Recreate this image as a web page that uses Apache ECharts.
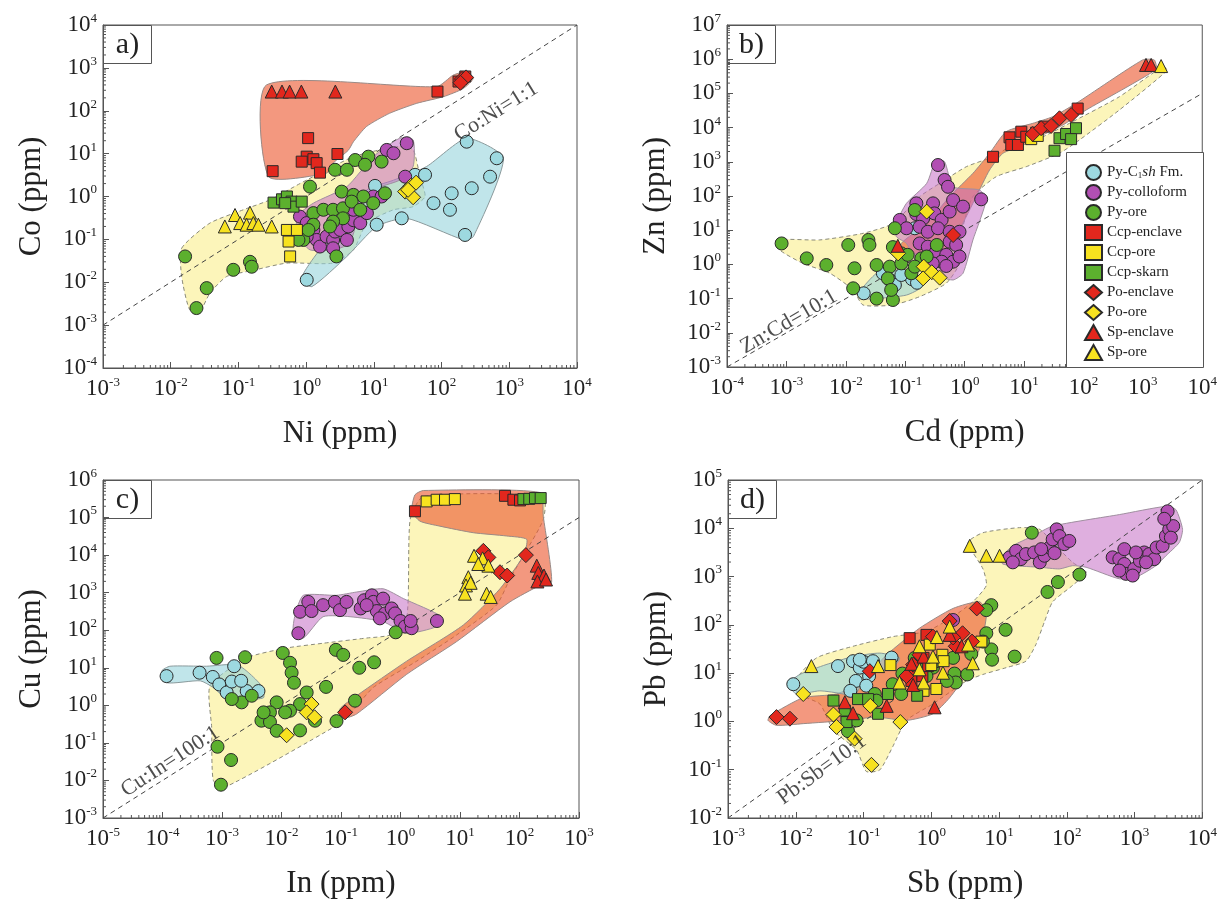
<!DOCTYPE html>
<html>
<head>
<meta charset="utf-8">
<script src="https://cdn.jsdelivr.net/npm/echarts@6/dist/echarts.min.js"></script>
<style>
  html, body { margin: 0; padding: 0; background: #fff; }
  #chart { width: 1220px; height: 900px; }
</style>
</head>
<body>
<div id="chart"></div>
<script>
// ---- panel a) Co vs Ni ----
const aPyC1sh = [[1.02,0.0114],[10.4,1.77],[11,0.22],[25.8,0.31],[40.6,3.2],[57,3.2],[76,0.7],[141,1.19],[133,0.49],[222,0.127],[235,19],[279,1.56],[520,2.9],[653,7.8]]
const aPyColloform = [[0.81,0.34],[1.02,0.24],[1.28,0.166],[1.43,0.097],[1.6,0.068],[2.0,0.116],[2.5,0.097],[2.67,0.152],[3.2,0.166],[4.0,0.097],[4.2,0.2],[5.0,0.28],[6.3,0.24],[5.0,0.49],[7.9,0.41],[9.8,1.0],[13,1.0],[15.5,12.2],[19.5,10.2],[30.6,17.5],[29,2.9],[1.02,0.116],[2.5,0.062]]
const aPyOre = [[0.0163,0.04],[0.034,0.0073],[0.024,0.0025],[0.084,0.0195],[0.148,0.03],[0.157,0.023],[1.14,1.7],[2.67,4.2],[4.0,4.2],[5.3,7.1],[8.3,8.5],[7.4,5.5],[13,6.5],[3.35,1.3],[5.0,1.09],[7.0,1.0],[9.8,0.7],[14.6,1.19],[1.28,0.41],[1.8,0.49],[2.5,0.49],[3.5,0.53],[4.7,0.76],[3.5,0.31],[2.5,0.26],[2.25,0.2],[6.3,0.49],[1.28,0.22],[0.91,0.097],[1.08,0.166],[2.8,0.04],[0.77,0.097]]
const aCcpEnclave = [[0.32,3.9],[1.07,23],[2.9,9.8],[1.02,8.5],[0.86,6.5],[1.28,7.4],[1.43,6.0],[1.6,3.6],[87,280],[178,480],[224,630]]
const aCcpOre = [[0.52,0.166],[0.73,0.166],[0.55,0.089],[0.58,0.04]]
const aCcpSkarn = [[0.33,0.72],[0.44,0.86],[0.52,1.0],[0.61,0.76],[0.65,0.58],[0.86,0.76],[0.49,0.7]]
const aPoEnclave = [[200,550],[230,600],[190,450]]
const aPoOre = [[28.9,1.3],[35,1.77],[42,2.1],[38,0.96],[32,1.43]]
const aSpEnclave = [[0.31,280],[0.44,280],[0.57,280],[0.85,280],[2.7,280]]
const aSpOre = [[0.063,0.2],[0.089,0.37],[0.106,0.24],[0.148,0.42],[0.132,0.22],[0.166,0.24],[0.197,0.22],[0.31,0.2]]

const aPolyOre = [[0.0145,0.062],[0.038,0.24],[0.118,0.49],[0.29,0.83],[0.81,2.0],[2.0,4.2],[5.0,8.5],[12.4,12.3],[24,14.6],[38,12.3],[48,2.9],[57,1.0],[38,0.58],[19.5,0.49],[7.9,0.24],[5.0,0.057],[2.5,0.028],[0.52,0.028],[0.166,0.019],[0.067,0.0136],[0.038,0.0056],[0.027,0.0021],[0.019,0.0023],[0.0145,0.0136]]
const aPolyEnclave = [[0.26,400],[85,365],[149,680],[234,810],[295,575],[209,330],[107,213],[43,149],[17,87],[7.8,43],[5,19],[4.2,12],[2.5,6],[2.0,3.5],[0.28,2.9]]
const aPolyC1sh = [[0.86,0.0124],[1.21,0.0079],[4.0,0.04],[11,0.2],[30.5,0.31],[210,0.098],[295,0.116],[818,7.8],[235,22.8],[60,5.0],[19.5,2.4],[7.9,1.43],[5.0,0.49],[2.25,0.116],[1.14,0.028]]
const aPolyColloform = [[0.73,0.34],[1.28,0.7],[4.0,1.7],[9.8,8.5],[24,22.8],[38,20.9],[38,5.0],[24,2.4],[9.8,1.43],[6.3,0.49],[4.4,0.081],[2.5,0.057],[1.14,0.057],[0.77,0.116]]

// ---- panel b) Zn vs Cd ----
const bPyC1sh = [[0.145,11.4],[0.02,0.143],[0.042,0.55],[0.055,0.35],[0.067,0.25],[0.13,0.37],[0.158,0.29],[0.086,0.49]]
const bPyColloform = [[0.356,805],[0.46,295],[0.525,186],[0.154,61],[0.294,61],[0.154,29.6],[0.2,22],[0.31,31],[0.41,20],[0.56,35],[0.64,76],[0.94,49],[1.9,80],[0.081,20],[0.105,11.4],[0.175,12.6],[0.24,9],[0.356,11.4],[0.56,9],[0.56,4.6],[0.72,3.7],[0.82,9],[0.175,4.1],[0.24,3.3],[0.33,2.35],[0.49,1.9],[0.41,1.2],[0.64,1.2],[0.82,1.7],[0.49,0.9],[0.29,1.07]]
const bPyOre = [[8.3e-4,4.1],[0.0022,1.5],[0.0047,0.96],[0.011,3.7],[0.014,0.77],[0.0133,0.2],[0.024,5.2],[0.025,3.7],[0.033,0.96],[0.033,0.1],[0.062,0.091],[0.067,11.4],[0.062,3.2],[0.055,0.86],[0.086,2.1],[0.086,1.07],[0.051,0.39],[0.058,0.18],[0.11,1.9],[0.145,39],[0.187,1.5],[0.23,1.7],[0.127,0.55],[0.34,3.7],[0.145,0.86]]
const bCcpEnclave = [[3.0,1400],[5.7,5200],[6.1,3100],[7.9,3100],[9.0,7600],[10.9,5400],[16,7100],[22,10700],[80,36000]]
const bCcpOre = [[13.2,4600],[17,5700]]
const bCcpSkarn = [[32.6,2100],[39.5,4900],[51,6500],[75,9600],[62,4600]]
const bPoEnclave = [[14,6500],[19.4,9600],[28.6,11200],[39.5,18700],[62,23300],[0.64,7.2]]
const bPoOre = [[0.23,35],[0.076,2.1],[0.205,0.86],[0.28,0.59],[0.2,0.39],[0.38,0.41]]
const bSpEnclave = [[1130,680000],[1380,680000],[0.075,3.5]]
const bSpOre = [[2030,630000]]

const bPolyOre = [[6.8e-4,5.2],[0.00366,5.2],[0.0195,8.1],[0.0625,15.8],[0.175,96],[0.38,234],[1.07,720],[3.0,1400],[6.5,3100],[18,4850],[58,13300],[403,80000],[2150,600000],[2600,483000],[403,32700],[86,4370],[39.5,1780],[10.9,720],[3.4,367],[1.38,96],[0.94,12.7],[0.82,1.07],[0.49,0.28],[0.175,0.114],[0.0625,0.065],[0.0195,0.065],[0.0133,0.178],[0.0054,0.55],[0.0019,1.07],[7.8e-4,2.6]]
const bPolyEnclave = [[0.086,4.1],[0.23,15.8],[0.56,96],[1.38,460],[2.63,1770],[5.0,7600],[14,13300],[30.5,20900],[75,51000],[990,950000],[1560,950000],[1660,500000],[111,32700],[45,11900],[18,5400],[8.4,2750],[4.4,1770],[2.63,575],[1.57,96],[0.82,10.1],[0.56,2.6],[0.2,2.1],[0.105,2.1]]
const bPolyC1sh = [[0.0172,0.16],[0.033,0.55],[0.0625,0.69],[0.136,0.55],[0.187,0.22],[0.105,0.127],[0.033,0.1],[0.018,0.1]]
const bPolyColloform = [[0.071,15.8],[0.105,61],[0.23,234],[0.33,1130],[0.46,1010],[0.64,186],[1.79,150],[2.3,76],[1.38,5.2],[0.94,0.55],[0.64,0.35],[0.38,0.44],[0.175,0.86],[0.105,4.1],[0.071,6.5]]

// ---- panel c) Cu vs In ----
const cPyC1sh = [[1.17e-4,6.0],[4.2e-4,7.4],[7.0e-4,5.7],[9.0e-4,3.6],[0.0012,2.2],[0.0016,11],[0.00146,4.3],[0.0026,2.4],[0.0041,2.4],[0.0021,4.5]]
const cPyColloform = [[0.0192,83],[0.0205,310],[0.0282,568],[0.032,324],[0.05,465],[0.079,568],[0.096,343],[0.124,568],[0.214,380],[0.244,628],[0.33,850],[0.35,568],[0.4,324],[0.51,695],[0.55,280],[0.71,380],[0.81,280],[1.0,176],[1.19,125],[1.54,113],[1.48,176],[4.1,176],[0.45,207],[0.27,465]]
const cPyOre = [[8.1e-4,18.3],[0.00244,19.1],[0.00214,1.2],[0.00146,1.47],[0.00316,1.8],[8.4e-4,0.079],[0.00142,0.035],[9.6e-4,0.0077],[0.0105,24.8],[0.0139,13.6],[0.0148,7.4],[0.0162,4.0],[0.0265,2.2],[0.0205,1.08],[0.0083,1.2],[0.0064,0.65],[0.0046,0.39],[0.0064,0.36],[0.0083,0.21],[0.0139,0.72],[0.0205,0.215],[0.0366,0.39],[0.082,30],[0.109,22],[0.203,10],[0.36,14],[0.056,3.1],[0.172,1.33],[0.084,0.38],[0.83,88],[0.0115,0.65],[0.005,0.65]]
const cCcpEnclave = [[1.75,147000],[57,379000],[79,298000],[102,286000]]
const cCcpOre = [[2.75,269000],[4.05,298000],[5.6,298000],[8.2,310000]]
const cCcpSkarn = [[116,310000],[146,316000],[182,330000],[227,330000]]
const cPoEnclave = [[0.117,0.65],[24.7,13000],[30,8700],[47,3500],[62,2860],[128,10000]]
const cPoOre = [[0.032,1.08],[0.0265,0.65],[0.036,0.48],[0.0122,0.16]]
const cSpEnclave = [[195,5240],[207,3360],[258,2860],[200,1990],[279,2240]]
const cSpOre = [[17.2,9600],[24,8200],[30,5240],[20.3,5800],[13.8,2580],[12.6,1560],[15.1,1830],[12.1,940],[28,940],[32.7,770]]

const cPolyOre = [[6.3e-4,3.3],[0.0026,18.3],[0.0122,33.6],[0.05,45],[0.27,62],[0.67,75],[1.27,207],[1.45,88500],[2.42,364000],[251,364000],[251,88500],[116,9600],[69,2330],[41,465],[8.8,75],[1.87,15],[0.35,3.0],[0.142,0.59],[0.084,0.29],[0.00105,0.0063],[7.1e-4,0.0104],[6.7e-4,0.26]]
const cPolyEnclave = [[1.54,147000],[1.75,403000],[2.42,525000],[221,464000],[251,108000],[347,1910],[221,1560],[69,568],[8.8,50],[1.27,6.7],[0.183,0.59],[0.112,0.46],[0.096,0.8],[0.183,1.8],[1.27,15],[11.4,138],[47,1270],[116,9600],[132,26300],[61,32300],[16.7,39500],[4.6,59000],[2.13,80000]]
const cPolyC1sh = [[9.7e-5,8.2],[1.17e-4,4.0],[4.3e-4,4.5],[7.1e-4,3.0],[0.00105,1.8],[0.0026,1.47],[0.005,1.6],[0.0046,3.3],[0.0028,7.4],[0.00176,12.2],[5.5e-4,11],[1.34e-4,11]]
const cPolyColloform = [[0.0158,92],[0.0233,62],[0.05,229],[0.142,229],[0.51,169],[1.27,83],[4.05,125],[4.9,229],[1.12,695],[0.51,1270],[0.183,1040],[0.084,850],[0.0233,850],[0.0169,254]]

// ---- panel d) Pb vs Sb ----
const dPyC1sh = [[0.0092,5.9],[0.042,14],[0.07,17.7],[0.088,13],[0.1,17.2],[0.138,17.7],[0.26,21],[0.121,8.7],[0.077,6.9],[0.064,4.3],[0.11,5.5],[0.088,19]]
const dPyColloform = [[14.3,2500],[17.9,3410],[21,2300],[25,2920],[33,3160],[40,1970],[47,2700],[56,4000],[62,5900],[71,9500],[78,6900],[92,4700],[109,5470],[66,3060],[42,3700],[16,1970],[476,2500],[597,2300],[708,1820],[748,1140],[597,1330],[993,1440],[1200,2130],[1390,3160],[1650,2920],[1960,2300],[2120,4000],[2600,4330],[2910,6900],[3260,9500],[3730,11100],[3440,6400],[3080,22500],[2750,15700],[708,3700],[940,1050],[1050,3160],[1480,1970],[2.1,126]]
const dPyOre = [[30.5,8100],[74,770],[52,480],[154,1100],[7.7,256],[6.5,202],[12.5,79],[6.5,67],[7.7,31],[7.9,19],[17,22],[2.2,9.8],[3.4,9.4],[2.3,6.4],[2.1,20.7],[1.06,13],[0.67,16],[0.375,9.8],[0.36,3.7],[0.147,3.7],[0.155,2.7],[0.079,1.05],[0.059,0.63],[0.57,20.7],[1.19,17.7],[3.9,25],[5.8,45],[0.27,5.9],[0.85,8.7],[1.7,6.9]]
const dCcpEnclave = [[0.48,53],[0.85,62],[0.77,20.7],[0.57,10.2],[0.51,6.9],[0.74,8.7],[0.9,14]]
const dCcpOre = [[0.25,14.7],[0.95,39],[1.46,24],[1.19,4.7],[1.0,14.7],[1.52,17.7],[5.5,45],[0.77,4.3]]
const dCcpSkarn = [[0.036,2.7],[0.053,1.68],[0.056,0.97],[0.083,2.9],[0.164,1.44],[0.23,3.7],[0.62,3.4],[0.117,2.9]]
const dPoEnclave = [[0.0052,1.23],[0.0082,1.14],[0.124,11],[0.43,8.7],[1.06,57],[1.87,120],[2.3,36],[2.9,67],[4.7,219],[0.67,24],[2.1,55],[0.54,15],[4.0,45]]
const dPoOre = [[0.0129,3.7],[0.036,1.39],[0.04,0.77],[0.074,0.44],[0.126,2.1],[0.35,0.97],[0.131,0.126]]
const dSpEnclave = [[0.053,2.5],[0.07,1.48],[0.22,2.1],[1.12,1.96],[0.77,22],[2.8,36],[0.51,15.6],[0.54,5.7],[1.87,62]]
const dSpOre = [[3.7,4330],[6.5,2700],[10.2,2700],[0.017,14],[0.164,14],[1.87,92],[1.21,56],[0.67,36],[1.06,22],[3.5,39],[4.1,16],[1.49,10.2],[0.34,6.4],[0.67,12],[0.77,6.4]]

const dPolyOre = [[0.0097,6.9],[0.0203,20.7],[0.07,36],[0.27,57],[0.85,73],[2.1,148],[4.1,300],[6.5,656],[5.8,1440],[3.5,5060],[5.8,8100],[20,10300],[40,9500],[62,5060],[122,1970],[193,1230],[122,656],[62,300],[47,117],[35,39],[25,17.7],[12.8,13],[5.8,9.4],[3.3,6.9],[1.06,2.3],[0.43,1.05],[0.27,0.3],[0.174,0.099],[0.11,0.092],[0.079,0.255],[0.036,0.65],[0.0227,2.3],[0.0109,3.7]]
const dPolyEnclave = [[0.0042,1.33],[0.0129,3.1],[0.04,3.7],[0.088,6.4],[0.22,24],[0.67,85],[2.1,219],[5.2,300],[6.5,160],[5.2,33],[3.3,9.4],[1.87,3.1],[1.06,1.44],[0.43,1.05],[0.155,1.23],[0.056,1.05],[0.0129,0.9],[0.0052,0.83],[0.0039,1.05]]
const dPolyC1sh = [[0.0077,5.9],[0.0115,9.4],[0.028,15],[0.07,22],[0.174,26],[0.34,20.7],[0.27,13],[0.124,9.4],[0.088,5.0],[0.07,3.1],[0.05,3.7],[0.0227,4.3],[0.0103,3.7]]
const dPolyColloform = [[10.2,2300],[16,4330],[31.5,6900],[62,11100],[597,19200],[2910,28500],[4080,24300],[5120,9500],[4570,5060],[2910,2700],[2070,1680],[1050,970],[597,900],[193,1560],[122,1680],[78,1440],[40,1560],[16,1680],[11.4,1820]]

// axis ranges and titles
const xRanges = [[1e-3, 1e4], [1e-4, 1e4], [1e-5, 1e3], [1e-3, 1e4]]
const yRanges = [[1e-4, 1e4], [1e-3, 1e7], [1e-3, 1e6], [1e-2, 1e5]]
const xNames = ['Ni (ppm)', 'Cd (ppm)', 'In (ppm)', 'Sb (ppm)']
const yNames = ['Co (ppm)', 'Zn (ppm)', 'Cu (ppm)', 'Pb (ppm)']
const panelTags = ['a)', 'b)', 'c)', 'd)']

// ratio reference lines (two end points each) and their labels
const ratioLines = [[[1e-3, 1e-3], [1e4, 1e4]], [[1e-4, 1e-3], [1e4, 1e5]], [[1e-5, 1e-3], [1e3, 1e5]], [[1e-3, 1e-2], [1e4, 1e5]]]
const ratioText = ['Co:Ni=1:1', 'Zn:Cd=10:1', 'Cu:In=100:1', 'Pb:Sb=10:1']
const ratioTextAt = [[640, 95], [0.0011, 0.021], [1.35e-4, 0.032], [0.0243, 0.1]]
const ratioTextRot = [32, 30, 33, 36]

const groupNames = ['Py-C1sh Fm.', 'Py-colloform', 'Py-ore', 'Ccp-enclave', 'Ccp-ore', 'Ccp-skarn', 'Po-enclave', 'Po-ore', 'Sp-enclave', 'Sp-ore']

const FONT = '"Liberation Serif", "DejaVu Serif", serif'
const RED = '#e2271d', YEL = '#f7e21f', GRN = '#5cb02e'
const groupStyle = [
    { symbol: 'circle', size: 13, color: '#9dd9e0' },
    { symbol: 'circle', size: 13, color: '#b24fb3' },
    { symbol: 'circle', size: 13, color: GRN },
    { symbol: 'rect', size: 11, color: RED },
    { symbol: 'rect', size: 11, color: YEL },
    { symbol: 'rect', size: 11, color: GRN },
    { symbol: 'diamond', size: 15, color: RED },
    { symbol: 'diamond', size: 15, color: YEL },
    { symbol: 'triangle', size: 13, color: RED },
    { symbol: 'triangle', size: 13, color: YEL }
]

const panelPoints = [
    [aPyC1sh, aPyColloform, aPyOre, aCcpEnclave, aCcpOre, aCcpSkarn, aPoEnclave, aPoOre, aSpEnclave, aSpOre],
    [bPyC1sh, bPyColloform, bPyOre, bCcpEnclave, bCcpOre, bCcpSkarn, bPoEnclave, bPoOre, bSpEnclave, bSpOre],
    [cPyC1sh, cPyColloform, cPyOre, cCcpEnclave, cCcpOre, cCcpSkarn, cPoEnclave, cPoOre, cSpEnclave, cSpOre],
    [dPyC1sh, dPyColloform, dPyOre, dCcpEnclave, dCcpOre, dCcpSkarn, dPoEnclave, dPoOre, dSpEnclave, dSpOre]
]
// drawing order: ore (yellow), enclave (red), C1sh (cyan), colloform (purple)
const panelPolys = [
    [aPolyOre, aPolyEnclave, aPolyC1sh, aPolyColloform],
    [bPolyOre, bPolyEnclave, bPolyC1sh, bPolyColloform],
    [cPolyOre, cPolyEnclave, cPolyC1sh, cPolyColloform],
    [dPolyOre, dPolyEnclave, dPolyC1sh, dPolyColloform]
]
const polyStyle = [
    { fill: 'rgba(250,238,140,0.6)', stroke: '#8a8a7a', lineDash: [4, 3] },
    { fill: 'rgba(236,88,48,0.62)', stroke: '#9a8a86', lineDash: null },
    { fill: 'rgba(150,212,220,0.6)', stroke: '#8a9a9c', lineDash: null },
    { fill: 'rgba(196,110,196,0.55)', stroke: '#a090a0', lineDash: null }
]

const grids = [
    { left: 103, top: 25, width: 474, height: 343 },
    { left: 727, top: 25, width: 476, height: 342 },
    { left: 103, top: 480, width: 476, height: 342 },
    { left: 728, top: 480, width: 475, height: 342 }
]

const decades = (r) => Math.round(Math.log10(r[1]) - Math.log10(r[0]))

const tickLabel = {
    formatter: (v) => '{b|10}{s|' + Math.round(Math.log10(v)) + '}',
    interval: 0,
    hideOverlap: false,
    showMinLabel: true,
    showMaxLabel: true,
    rich: {
        b: { fontFamily: FONT, fontSize: 23, color: '#222' },
        s: { fontFamily: FONT, fontSize: 13, color: '#222', verticalAlign: 'top', lineHeight: 26 }
    }
}

function makeAxis(i, range, name, isY) {
    const ax = {
        type: 'log', logBase: 10, gridIndex: i,
        min: range[0], max: range[1], splitNumber: decades(range),
        name: name, nameLocation: 'middle', nameGap: isY ? 56 : 50, nameRotate: isY ? 90 : 0,
        nameTextStyle: { fontFamily: FONT, fontSize: 31, color: '#222' },
        axisLine: { show: true, onZero: false, lineStyle: { color: '#555', width: 1 } },
        axisTick: { show: true, inside: true, interval: 0, length: 6, lineStyle: { color: '#555' } },
        splitLine: { show: false },
        axisLabel: Object.assign({ margin: isY ? 6 : 8 }, tickLabel)
    }
    // a span of ten decades makes the log scale step by ten; force one decade per tick
    if (decades(range) >= 10) ax.interval = 1
    return ax
}

function polyRender(verts, st) {
    return function (params, api) {
        const pts = verts.map((v) => api.coord(v))
        return {
            type: 'polygon',
            shape: { points: pts, smooth: 0.2 },
            style: { fill: st.fill, stroke: st.stroke, lineWidth: 1, lineDash: st.lineDash }
        }
    }
}

// log minor ticks (2..9 x 10^k) along the bottom and left axes
function minorTickRender(xr, yr) {
    return function (params, api) {
        const children = []
        for (let k = Math.log10(xr[0]); k < Math.log10(xr[1]); k++) {
            for (let m = 2; m < 10; m++) {
                const p = api.coord([m * Math.pow(10, k), yr[0]])
                children.push({ type: 'line', shape: { x1: p[0], y1: p[1], x2: p[0], y2: p[1] - 3 }, style: { stroke: '#555', lineWidth: 1 } })
            }
        }
        for (let k = Math.log10(yr[0]); k < Math.log10(yr[1]); k++) {
            for (let m = 2; m < 10; m++) {
                const p = api.coord([xr[0], m * Math.pow(10, k)])
                children.push({ type: 'line', shape: { x1: p[0], y1: p[1], x2: p[0] + 3, y2: p[1] }, style: { stroke: '#555', lineWidth: 1 } })
            }
        }
        return { type: 'group', children: children }
    }
}

const series = []
const graphics = []
for (let i = 0; i < 4; i++) {
    panelPolys[i].forEach((verts, j) => {
        series.push({
            type: 'custom', xAxisIndex: i, yAxisIndex: i, z: 1, silent: true,
            renderItem: polyRender(verts, polyStyle[j]),
            data: [verts[0]]
        })
    })
    series.push({
        type: 'line', xAxisIndex: i, yAxisIndex: i, z: 3, silent: true,
        symbol: 'none', data: ratioLines[i],
        lineStyle: { color: '#444', width: 1, type: [5, 4] }
    })
    series.push({
        type: 'custom', xAxisIndex: i, yAxisIndex: i, z: 3, silent: true,
        renderItem: minorTickRender(xRanges[i], yRanges[i]),
        data: [[xRanges[i][0], yRanges[i][0]]]
    })
    panelPoints[i].forEach((pts, g) => {
        const gs = groupStyle[g]
        series.push({
            type: 'scatter', name: groupNames[g], xAxisIndex: i, yAxisIndex: i, z: 5,
            symbol: gs.symbol, symbolSize: gs.size, data: pts,
            itemStyle: { color: gs.color, borderColor: '#2a2a2a', borderWidth: 1, opacity: 1 }
        })
    })
    series.push({
        type: 'scatter', xAxisIndex: i, yAxisIndex: i, z: 6, silent: true,
        symbolSize: 1, itemStyle: { color: 'rgba(0,0,0,0)' },
        data: [ratioTextAt[i]],
        label: {
            show: true, position: 'inside', formatter: ratioText[i], rotate: ratioTextRot[i],
            fontFamily: FONT, fontSize: 22, color: '#222'
        }
    })
    graphics.push({
        type: 'group', left: grids[i].left, top: grids[i].top, z: 50,
        children: [
            { type: 'rect', shape: { x: 0, y: 0, width: 48, height: 38 }, style: { fill: '#fff', stroke: '#555', lineWidth: 1 } },
            { type: 'text', x: 24, y: 20, style: { text: panelTags[i], font: '30px ' + FONT, fill: '#222', textAlign: 'center', textVerticalAlign: 'middle' } }
        ]
    })
}
graphics.push({
    type: 'rect', left: 1066, top: 152, z: 50,
    shape: { width: 137, height: 215 },
    style: { fill: '#fff', stroke: '#555', lineWidth: 1 }
})

const myChart = echarts.init(document.getElementById('chart'))
const option = {
    animation: false,
    backgroundColor: '#fff',
    grid: grids.map((g) => Object.assign({ show: true, borderColor: '#555', borderWidth: 1, containLabel: false }, g)),
    xAxis: xRanges.map((r, i) => makeAxis(i, r, xNames[i], false)),
    yAxis: yRanges.map((r, i) => makeAxis(i, r, yNames[i], true)),
    legend: {
        left: 1079, top: 159, orient: 'vertical', z: 60,
        itemGap: 3, itemWidth: 17, itemHeight: 15, selectedMode: false,
        data: groupNames,
        formatter: (name) => name === 'Py-C1sh Fm.' ? '{n|Py-C}{sub|1}{it|sh}{n| Fm.}' : name,
        textStyle: {
            fontFamily: FONT, fontSize: 15, color: '#222',
            rich: {
                n: { fontFamily: FONT, fontSize: 15, color: '#222' },
                sub: { fontFamily: FONT, fontSize: 9, color: '#222', verticalAlign: 'bottom' },
                it: { fontFamily: FONT, fontSize: 15, fontStyle: 'italic', color: '#222' }
            }
        }
    },
    graphic: graphics,
    series: series
}
myChart.setOption(option)
</script>
</body>
</html>
